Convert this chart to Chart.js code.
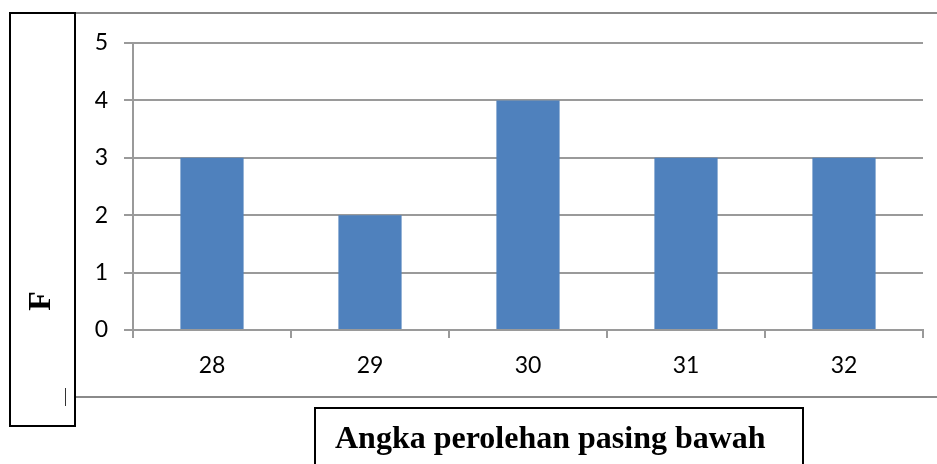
<!DOCTYPE html>
<html>
<head>
<meta charset="utf-8">
<script src="https://cdn.jsdelivr.net/npm/chart.js@4/dist/chart.umd.min.js"></script>
<style>
  body { margin: 0; background: #fff; }
  #wrap { position: relative; width: 937px; height: 464px; overflow: hidden; }
  #freqChart { position: absolute; left: 0; top: 0; }
  .hline { position: absolute; height: 2px; background: #8a8a8a; }
  #leftBox { position: absolute; left: 9px; top: 12px; width: 67px; height: 415px;
             border: 2px solid #000; box-sizing: border-box; }
  #yTitle { position: absolute; left: 39px; top: 301px; font: bold 32px "Liberation Serif", serif;
            transform: translate(-50%, -50%) rotate(-90deg); color: #000; }
  #cursor { position: absolute; left: 65px; top: 388px; width: 1px; height: 18px; background: #333; }
  #xBox { position: absolute; left: 314px; top: 407px; width: 490px; height: 70px;
          border: 2px solid #000; box-sizing: border-box; }
  #xTitle { position: absolute; left: 335px; top: 419px; font: bold 32px "Liberation Serif", serif;
            color: #000; white-space: nowrap; }
</style>
</head>
<body>
<div id="wrap">
  <canvas id="freqChart" width="937" height="464"></canvas>
  <div class="hline" style="left:76px; top:12px; width:861px;"></div>
  <div class="hline" style="left:76px; top:396px; width:861px;"></div>
  <div id="leftBox"></div>
  <div id="yTitle">F</div>
  <div id="cursor"></div>
  <div id="xBox"></div>
  <div id="xTitle">Angka perolehan pasing bawah</div>
</div>
<script>
// nilai yang dibaca dari gambar
const categories = ['28', '29', '30', '31', '32'];
const frequencies = [3, 2, 4, 3, 3];
const yMin = 0;
const yMax = 5;
const yStep = 1;

const gridColor = '#9a9a9a';
const tickFont = { family: 'Lato', size: 23 };

const ctx = document.getElementById('freqChart').getContext('2d');

new Chart(ctx, {
    type: 'bar',
    data: {
        labels: categories,
        datasets: [{
            data: frequencies,
            backgroundColor: '#4f81bd',
            borderWidth: 0,
            categoryPercentage: 1,
            barPercentage: 0.4
        }]
    },
    options: {
        responsive: false,
        animation: false,
        layout: {
            padding: { left: 73, right: 14, top: 43, bottom: 74 }
        },
        plugins: {
            legend: { display: false },
            tooltip: { enabled: false },
            title: { display: false }
        },
        scales: {
            x: {
                afterFit: function(scale) { scale.height = 60; },
                grid: {
                    offset: true,
                    drawOnChartArea: false,
                    drawTicks: true,
                    tickLength: 8,
                    color: gridColor,
                    lineWidth: 2
                },
                border: { display: true, color: gridColor, width: 2 },
                ticks: { color: '#000', font: tickFont, padding: 14, maxRotation: 0 }
            },
            y: {
                min: yMin,
                max: yMax,
                afterFit: function(scale) { scale.width = 60; },
                grid: {
                    color: gridColor,
                    lineWidth: 2,
                    drawTicks: true,
                    tickLength: 9
                },
                border: { display: true, color: gridColor, width: 2 },
                ticks: { stepSize: yStep, color: '#000', font: tickFont, padding: 16 }
            }
        }
    }
});
</script>
</body>
</html>
